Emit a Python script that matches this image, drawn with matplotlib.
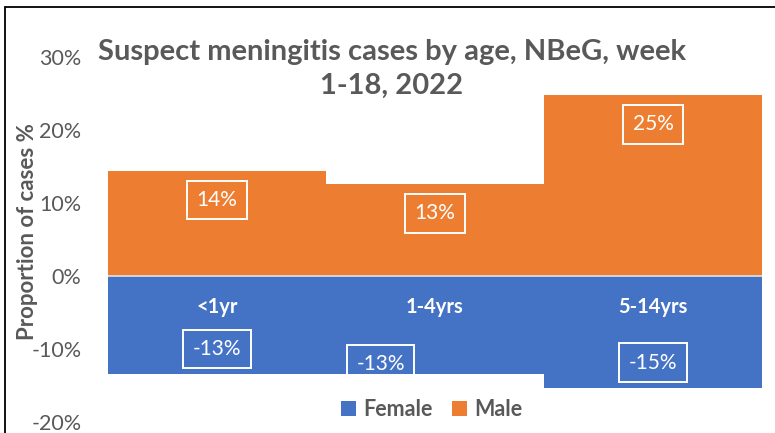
import numpy as np
import matplotlib
matplotlib.use("Agg")
import matplotlib.pyplot as plt
from matplotlib.patches import Rectangle

# --- дані ---
age_groups = ["<1yr", "1-4yrs", "5-14yrs"]
male = [14.4, 12.6, 24.8]
female = [-13.4, -13.4, -15.3]
y_ticks = [-20, -10, 0, 10, 20, 30]

ORANGE = "#ED7D31"
BLUE = "#4472C4"
GREY = "#595959"

plt.rcParams["font.family"] = ["Lato", "DejaVu Sans"]

fig = plt.figure(figsize=(7.75, 4.33), dpi=100)
ax = fig.add_axes([108 / 775, 11 / 433, 654 / 775, 365 / 433])

x = np.arange(len(age_groups))
ax.bar(x, female, width=1.0, color=BLUE, linewidth=0, label="Female")
ax.bar(x, male, width=1.0, color=ORANGE, linewidth=0, label="Male")
ax.axhline(0, color="#e3e3e3", lw=1.2)

box = dict(boxstyle="square,pad=0.45", fc="none", ec="white", lw=1.4)

# підписи значень
for i, v in enumerate(male):
    ax.text(x[i], v - 4.0, f"{round(v):.0f}%", ha="center", va="center",
            color="white", fontsize=15, bbox=box)
for i, v in enumerate(female):
    xi, yi = x[i], v + 3.4
    if i == 1:  # цей підпис у вихідному графіку зсунуто вручну
        xi, yi = x[i] - 0.25, v + 1.3
    ax.text(xi, yi, f"{round(v):.0f}%", ha="center", va="center",
            color="white", fontsize=15, bbox=box)

# назви вікових груп
for i, name in enumerate(age_groups):
    ax.text(x[i], -4.3, name, ha="center", va="center", color="white",
            fontsize=14.5, fontweight="bold")

ax.set_xlim(-0.5, 2.5)
ax.set_ylim(-20, 30)
ax.set_yticks(y_ticks)
ax.set_yticklabels([f"{t}%" for t in y_ticks])
ax.set_xticks([])
ax.tick_params(axis="y", length=0, labelsize=15.5, labelcolor=GREY, pad=19)
for s in ax.spines.values():
    s.set_visible(False)

ax.set_ylabel("Proportion of cases %", fontsize=16, fontweight="bold", color=GREY)
ax.yaxis.set_label_coords((38 - 108) / 654, 0.523)

fig.text(392 / 775, 1 - 69 / 433, "Suspect meningitis cases by age, NBeG, week\n1-18, 2022",
         ha="center", va="center", fontsize=21, fontweight="bold", color=GREY,
         linespacing=1.4)

leg = ax.legend(loc="center", bbox_to_anchor=(0.495, 0.033), ncol=2, frameon=False,
                handlelength=0.7, handleheight=0.7, handletextpad=0.35,
                columnspacing=0.9, prop={"size": 15.5, "weight": "bold"})
for t in leg.get_texts():
    t.set_color(GREY)

# рамка навколо рисунка (обрізана праворуч і знизу)
fig.patches.append(Rectangle((5 / 775, -0.1), 1.2, 1 - 7 / 433 + 0.1,
                             transform=fig.transFigure, fill=False,
                             ec="black", lw=1.3))

fig.savefig("out.png", dpi=100)
